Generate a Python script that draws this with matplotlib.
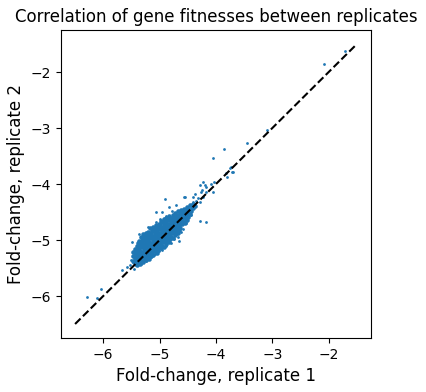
import matplotlib
matplotlib.use("Agg")
import matplotlib.pyplot as plt

# fold-changes (replicate 1, replicate 2)
# dense core of the cloud
rep1_core = [
    -5.40, -5.42, -5.45, -5.47,
    -5.34, -5.37, -5.39, -5.42, -5.44, -5.47,
    -5.29, -5.32, -5.34, -5.37, -5.39, -5.42, -5.44, -5.47,
    -5.24, -5.26, -5.29, -5.31, -5.34, -5.36, -5.39, -5.41, -5.44,
    -5.19, -5.21, -5.24, -5.26, -5.29, -5.31, -5.34, -5.36, -5.39, -5.41,
    -5.16, -5.18, -5.21, -5.23, -5.26, -5.28, -5.31, -5.33, -5.36, -5.38,
    -5.11, -5.13, -5.16, -5.18, -5.21, -5.23, -5.26, -5.28, -5.31, -5.33, -5.36,
    -5.05, -5.08, -5.10, -5.13, -5.15, -5.18, -5.20, -5.23, -5.25, -5.28, -5.30, -5.33,
    -5.03, -5.05, -5.08, -5.10, -5.13, -5.15, -5.18, -5.20, -5.23, -5.25, -5.28, -5.30,
    -4.97, -5.00, -5.02, -5.05, -5.07, -5.10, -5.12, -5.15, -5.17, -5.20, -5.22, -5.25,
    -4.92, -4.95, -4.97, -5.00, -5.02, -5.05, -5.07, -5.10, -5.12, -5.15, -5.17, -5.20,
    -4.89, -4.92, -4.94, -4.97, -4.99, -5.02, -5.04, -5.07, -5.09, -5.12, -5.14, -5.17,
    -4.84, -4.87, -4.89, -4.92, -4.94, -4.97, -4.99, -5.02, -5.04, -5.07, -5.09, -5.12,
    -4.81, -4.84, -4.86, -4.89, -4.91, -4.94, -4.96, -4.99, -5.01, -5.04, -5.06,
    -4.76, -4.79, -4.81, -4.84, -4.86, -4.89, -4.91, -4.94, -4.96, -4.99, -5.01,
    -4.73, -4.76, -4.78, -4.81, -4.83, -4.86, -4.88, -4.91, -4.93, -4.96, -4.98,
    -4.68, -4.71, -4.73, -4.76, -4.78, -4.81, -4.83, -4.86, -4.88, -4.91, -4.93,
    -4.65, -4.68, -4.70, -4.73, -4.75, -4.78, -4.80, -4.83, -4.85, -4.88,
    -4.63, -4.65, -4.68, -4.70, -4.73, -4.75, -4.78, -4.80, -4.83,
    -4.60, -4.62, -4.65, -4.67, -4.70, -4.72, -4.75, -4.77,
    -4.55, -4.57, -4.60, -4.62, -4.65, -4.67, -4.70, -4.72,
    -4.52, -4.54, -4.57, -4.59, -4.62, -4.64, -4.67,
    -4.49, -4.52, -4.54, -4.57, -4.59, -4.62,
    -4.46, -4.49, -4.51, -4.54, -4.56,
    -4.44, -4.46, -4.49, -4.51,
    -4.41, -4.43, -4.46,
    -4.37, -4.40,
]
rep2_core = [
    -5.45, -5.42, -5.40, -5.37,
    -5.42, -5.39, -5.37, -5.34, -5.32, -5.29,
    -5.39, -5.37, -5.34, -5.32, -5.29, -5.27, -5.24, -5.22,
    -5.36, -5.34, -5.31, -5.29, -5.26, -5.24, -5.21, -5.19, -5.16,
    -5.34, -5.31, -5.29, -5.26, -5.24, -5.21, -5.19, -5.16, -5.14, -5.11,
    -5.28, -5.26, -5.23, -5.21, -5.18, -5.16, -5.13, -5.11, -5.08, -5.06,
    -5.26, -5.23, -5.21, -5.18, -5.16, -5.13, -5.11, -5.08, -5.06, -5.03, -5.01,
    -5.23, -5.20, -5.18, -5.15, -5.13, -5.10, -5.08, -5.05, -5.03, -5.00, -4.98, -4.95,
    -5.18, -5.15, -5.13, -5.10, -5.08, -5.05, -5.03, -5.00, -4.98, -4.95, -4.93, -4.90,
    -5.15, -5.12, -5.10, -5.07, -5.05, -5.02, -5.00, -4.97, -4.95, -4.92, -4.90, -4.87,
    -5.12, -5.10, -5.07, -5.05, -5.02, -5.00, -4.97, -4.95, -4.92, -4.90, -4.87, -4.85,
    -5.07, -5.04, -5.02, -4.99, -4.97, -4.94, -4.92, -4.89, -4.87, -4.84, -4.82, -4.79,
    -5.04, -5.02, -4.99, -4.97, -4.94, -4.92, -4.89, -4.87, -4.84, -4.82, -4.79, -4.77,
    -4.99, -4.96, -4.94, -4.91, -4.89, -4.86, -4.84, -4.81, -4.79, -4.76, -4.74,
    -4.96, -4.94, -4.91, -4.89, -4.86, -4.84, -4.81, -4.79, -4.76, -4.74, -4.71,
    -4.91, -4.88, -4.86, -4.83, -4.81, -4.78, -4.76, -4.73, -4.71, -4.68, -4.66,
    -4.88, -4.86, -4.83, -4.81, -4.78, -4.76, -4.73, -4.71, -4.68, -4.66, -4.63,
    -4.83, -4.80, -4.78, -4.75, -4.73, -4.70, -4.68, -4.65, -4.63, -4.60,
    -4.78, -4.75, -4.73, -4.70, -4.68, -4.65, -4.63, -4.60, -4.58,
    -4.72, -4.70, -4.67, -4.65, -4.62, -4.60, -4.57, -4.55,
    -4.70, -4.67, -4.65, -4.62, -4.60, -4.57, -4.55, -4.52,
    -4.64, -4.62, -4.59, -4.57, -4.54, -4.52, -4.49,
    -4.59, -4.57, -4.54, -4.52, -4.49, -4.47,
    -4.54, -4.51, -4.49, -4.46, -4.44,
    -4.49, -4.46, -4.44, -4.41,
    -4.43, -4.41, -4.38,
    -4.39, -4.36,
]

# scattered genes around the core and the outliers
rep1_sparse = [
    -5.49, -5.36, -5.21, -5.06, -4.95, -4.90, -4.83, -4.71, -4.55, -5.06,
    -5.30, -5.15, -5.00, -4.78, -5.40, -5.25, -5.12, -4.88, -5.45, -5.33,
    -5.33, -5.15, -5.01, -4.89, -4.74, -4.67, -4.65, -4.62, -4.53, -4.45,
    -4.95, -5.25, -4.80, -4.58, -5.08, -4.70,
    -4.38, -4.41, -4.29, -4.35, -4.32, -4.29, -4.23, -4.17, -4.08, -4.04,
    -4.25, -4.20, -4.26, -4.17, -4.05, -4.23, -4.41, -4.56,
    -4.18, -4.29,
    -3.72, -3.74, -3.83, -3.76, -3.81, -3.70, -4.06, -3.86, -3.45, -3.09,
    -2.08, -1.72,
    -5.45, -5.51, -5.66, -6.04, -6.29, -6.11, -5.52, -5.58,
]
rep2_sparse = [
    -5.04, -4.89, -4.77, -4.68, -4.50, -4.27, -4.41, -4.38, -4.23, -4.50,
    -4.95, -4.85, -4.62, -4.48, -5.10, -4.88, -4.80, -4.58, -5.20, -5.00,
    -5.42, -5.30, -5.20, -5.10, -4.98, -4.95, -5.02, -4.86, -4.70, -4.55,
    -5.18, -5.38, -5.05, -4.80, -5.25, -4.90,
    -4.17, -4.23, -4.32, -4.30, -4.25, -4.02, -3.96, -4.05, -4.00, -3.96,
    -4.10, -4.02, -4.15, -4.14, -4.14, -4.23, -4.32, -4.23,
    -4.67, -4.66,
    -3.78, -3.70, -3.81, -3.72, -3.87, -3.78, -3.54, -3.38, -3.26, -3.04,
    -1.85, -1.63,
    -5.52, -5.35, -5.53, -5.87, -6.01, -6.04, -5.45, -5.48,
]

# identity line
diag = [-6.5, -1.5]

fig = plt.figure(figsize=(4.27, 3.92), dpi=100)
ax = fig.add_axes([61 / 427, 54 / 392, 310 / 427, 308 / 392])

ax.scatter(rep1_core, rep2_core, s=11, color='#1f77b4', linewidths=0)
ax.scatter(rep1_sparse, rep2_sparse, s=4, color='#1f77b4', linewidths=0)
ax.plot(diag, diag, 'k--')

ax.set_xlabel("Fold-change, replicate 1", fontsize=12)
ax.set_ylabel("Fold-change, replicate 2", fontsize=12)
ax.set_title("Correlation of gene fitnesses between replicates", fontsize=12)

fig.savefig("out.png", dpi=100)
